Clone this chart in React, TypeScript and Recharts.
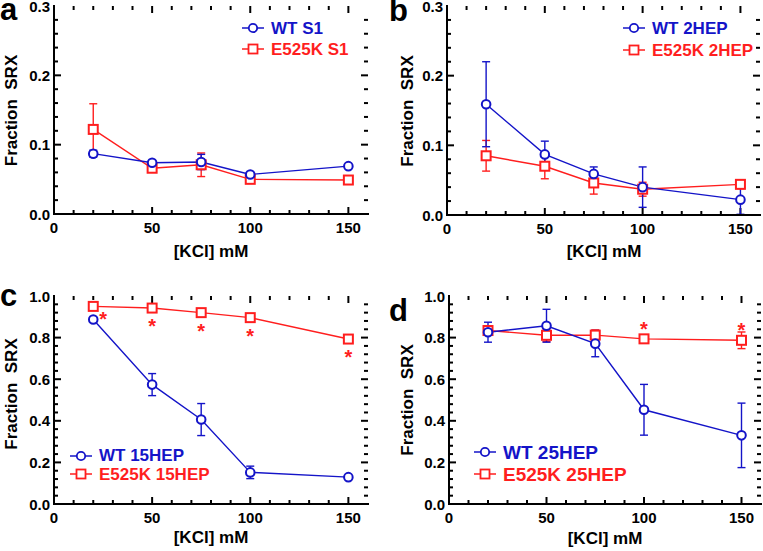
import React from 'react';
import { LineChart, Line, XAxis, YAxis, ErrorBar, Legend, ReferenceLine } from 'recharts';

// ---------- data ----------
const kcl = [20, 50, 75, 100, 150];

const wtS1 = [0.087, 0.074, 0.075, 0.057, 0.069];
const wtS1Err = [0.005, 0.003, 0.011, 0.003, 0.002];
const mutS1 = [0.122, 0.066, 0.071, 0.05, 0.049];
const mutS1Err = [0.037, 0.003, 0.017, 0.003, 0.002];

const wt2 = [0.159, 0.087, 0.059, 0.04, 0.022];
const wt2Err = [0.061, 0.019, 0.01, 0.029, 0.021];
const mut2 = [0.085, 0.07, 0.046, 0.037, 0.044];
const mut2Err = [0.022, 0.018, 0.016, 0.01, 0.006];

const wt15 = [0.887, 0.574, 0.406, 0.152, 0.129];
const wt15Err = [0.01, 0.053, 0.077, 0.03, 0.008];
const mut15 = [0.95, 0.942, 0.92, 0.896, 0.793];
const mut15Err = [0.008, 0.008, 0.008, 0.008, 0.018];

const wt25 = [0.826, 0.857, 0.771, 0.453, 0.33];
const wt25Err = [0.048, 0.079, 0.063, 0.122, 0.155];
const mut25 = [0.834, 0.811, 0.812, 0.794, 0.787];
const mut25Err = [0.022, 0.03, 0.025, 0.01, 0.04];

// significance marks on the E525K series
const starsC = ['right', 'below', 'below', 'below', 'below'];
const starsD = ['', '', '', 'above', 'above'];

// ---------- ticks ----------
const xTicksAll = [0, 10, 20, 30, 40, 50, 60, 70, 80, 90, 100, 110, 120, 130, 140, 150, 160];
const xTicksMajor = [0, 50, 100, 150];
const ySmallAll = [0, 0.02, 0.04, 0.06, 0.08, 0.1, 0.12, 0.14, 0.16, 0.18, 0.2, 0.22, 0.24, 0.26, 0.28, 0.3];
const ySmallMajor = [0, 0.1, 0.2, 0.3];
const yLargeAll = [0, 0.04, 0.08, 0.12, 0.16, 0.2, 0.24, 0.28, 0.32, 0.36, 0.4, 0.44, 0.48, 0.52, 0.56, 0.6, 0.64, 0.68, 0.72, 0.76, 0.8, 0.84, 0.88, 0.92, 0.96, 1.0];
const yLargeMajor = [0, 0.2, 0.4, 0.6, 0.8, 1.0];

const X_MAX = 160;
const BLUE = '#1414C8';
const RED = '#FF1E1E';
const FONT = '"Liberation Sans", Arial, Helvetica, sans-serif';

const build = (a: number[], ae: number[], b: number[], be: number[]) =>
  kcl.map((k, i) => ({ k, wt: a[i], wtErr: ae[i], mut: b[i], mutErr: be[i] }));

const isIn = (arr: number[], v: number) => arr.some((m) => Math.abs(m - v) < 1e-9);

const bottomLabel = (majors: number[]) => (props: any) => {
  const { x, y, payload, index } = props;
  if (!isIn(majors, payload.value)) return <g key={index} />;
  return (
    <text key={index} x={x} y={y + 19} textAnchor="middle" fontFamily={FONT} fontWeight={700} fontSize={15} fill="#000">
      {String(payload.value)}
    </text>
  );
};

const leftLabel = (majors: number[]) => (props: any) => {
  const { x, y, payload, index } = props;
  if (!isIn(majors, payload.value)) return <g key={index} />;
  return (
    <text key={index} x={x - 4} y={y + 5.5} textAnchor="end" fontFamily={FONT} fontWeight={700} fontSize={15} fill="#000">
      {Number(payload.value).toFixed(1)}
    </text>
  );
};

const circleDot = (color: string) => (props: any) => {
  const { cx, cy, index } = props;
  if (cx == null || cy == null) return <g key={index} />;
  return <circle key={index} cx={cx} cy={cy} r={4.3} fill="#fff" stroke={color} strokeWidth={2} />;
};

const squareDot = (color: string) => (props: any) => {
  const { cx, cy, index } = props;
  if (cx == null || cy == null) return <g key={index} />;
  return <rect key={index} x={cx - 4.5} y={cy - 4.5} width={9} height={9} fill="#fff" stroke={color} strokeWidth={2} />;
};

const starLabel = (marks: string[]) => (props: any) => {
  const { x, y, index } = props;
  const m = marks[index];
  if (!m || x == null || y == null) return <g key={index} />;
  let tx = x;
  let ty = y;
  if (m === 'below') ty = y + 25;
  if (m === 'above') ty = y - 3;
  if (m === 'right') {
    tx = x + 10;
    ty = y + 20;
  }
  return (
    <text key={index} x={tx} y={ty} textAnchor="middle" fontFamily={FONT} fontWeight={700} fontSize={20} fill={RED}>
      *
    </text>
  );
};

function LegendBox({ items, fontSize, rowH }: { items: { name: string; color: string; shape: string }[]; fontSize: number; rowH: number }) {
  return (
    <div style={{ display: 'flex', flexDirection: 'column' }}>
      {items.map((it) => (
        <div key={it.name} style={{ display: 'flex', alignItems: 'center', height: rowH, whiteSpace: 'nowrap' }}>
          <svg width={24} height={14} style={{ display: 'block' }}>
            <line x1={1} y1={7} x2={23} y2={7} stroke={it.color} strokeWidth={1.5} />
            {it.shape === 'circle' ? (
              <circle cx={12} cy={7} r={4.2} fill="#fff" stroke={it.color} strokeWidth={1.8} />
            ) : (
              <rect x={7.5} y={2.5} width={9} height={9} fill="#fff" stroke={it.color} strokeWidth={1.8} />
            )}
          </svg>
          <span style={{ marginLeft: 6, color: it.color, fontFamily: FONT, fontWeight: 700, fontSize, lineHeight: 1 }}>{it.name}</span>
        </div>
      ))}
    </div>
  );
}

interface PanelProps {
  left: number;
  top: number;
  w: number;
  h: number;
  plot: { l: number; t: number; r: number; b: number };
  data: any[];
  yMax: number;
  yAll: number[];
  yMajor: number[];
  wtName: string;
  mutName: string;
  legend: { x: number; y: number; font: number; rowH: number };
  stars?: string[];
}

function Panel(p: PanelProps) {
  const YW = 50;
  const XH = 40;
  const margin = {
    left: p.plot.l - YW,
    top: p.plot.t,
    right: p.w - p.plot.r,
    bottom: p.h - p.plot.b - XH,
  };
  const axisLine = { stroke: '#000', strokeWidth: 2, strokeLinecap: 'square' as const };
  const yPerPx = p.yMax / (p.plot.b - p.plot.t);
  const xPerPx = X_MAX / (p.plot.r - p.plot.l);
  const tickStroke = { stroke: '#000', strokeWidth: 2, ifOverflow: 'visible' as const };

  const tickMarks: any[] = [];
  xTicksAll.forEach((v) => {
    if (v <= 0 || v >= X_MAX) return;
    const len = isIn(xTicksMajor, v) ? 7 : 4;
    tickMarks.push(
      <ReferenceLine key={`xb${v}`} segment={[{ x: v, y: 0 }, { x: v, y: len * yPerPx }]} {...tickStroke} />,
      <ReferenceLine key={`xt${v}`} segment={[{ x: v, y: p.yMax }, { x: v, y: p.yMax - len * yPerPx }]} {...tickStroke} />
    );
  });
  p.yAll.forEach((v) => {
    if (v <= 0 || v >= p.yMax - 1e-9) return;
    const len = isIn(p.yMajor, v) ? 7 : 4;
    tickMarks.push(
      <ReferenceLine key={`yl${v}`} segment={[{ x: 0, y: v }, { x: len * xPerPx, y: v }]} {...tickStroke} />,
      <ReferenceLine key={`yr${v}`} segment={[{ x: X_MAX, y: v }, { x: X_MAX - len * xPerPx, y: v }]} {...tickStroke} />
    );
  });

  return (
    <div style={{ position: 'absolute', left: p.left, top: p.top, width: p.w, height: p.h }}>
      <LineChart width={p.w} height={p.h} data={p.data} margin={margin}>
        <XAxis
          dataKey="k"
          type="number"
          domain={[0, X_MAX]}
          ticks={xTicksMajor}
          interval={0}
          height={XH}
          tickSize={0}
          tickMargin={0}
          tickLine={false}
          axisLine={axisLine}
          tick={bottomLabel(xTicksMajor)}
        />
        <XAxis
          xAxisId="top"
          orientation="top"
          type="number"
          domain={[0, X_MAX]}
          ticks={xTicksMajor}
          height={0}
          tickLine={false}
          axisLine={axisLine}
          tick={false}
        />
        <YAxis
          type="number"
          domain={[0, p.yMax]}
          ticks={p.yMajor}
          interval={0}
          width={YW}
          tickSize={0}
          tickMargin={0}
          tickLine={false}
          axisLine={axisLine}
          tick={leftLabel(p.yMajor)}
        />
        <YAxis
          yAxisId="right"
          orientation="right"
          type="number"
          domain={[0, p.yMax]}
          ticks={p.yMajor}
          width={0}
          tickLine={false}
          axisLine={axisLine}
          tick={false}
        />
        {tickMarks}
        <Legend
          layout="vertical"
          align="center"
          verticalAlign="middle"
          wrapperStyle={{ left: p.legend.x, top: p.legend.y, width: 'auto' }}
          content={() => (
            <LegendBox
              fontSize={p.legend.font}
              rowH={p.legend.rowH}
              items={[
                { name: p.wtName, color: BLUE, shape: 'circle' },
                { name: p.mutName, color: RED, shape: 'square' },
              ]}
            />
          )}
        />
        <Line
          dataKey="mut"
          name={p.mutName}
          stroke={RED}
          strokeWidth={1.4}
          isAnimationActive={false}
          dot={squareDot(RED)}
          activeDot={false}
          label={p.stars ? starLabel(p.stars) : false}
        >
          <ErrorBar dataKey="mutErr" width={4} stroke={RED} strokeWidth={1.4} direction="y" />
        </Line>
        <Line
          dataKey="wt"
          name={p.wtName}
          stroke={BLUE}
          strokeWidth={1.4}
          isAnimationActive={false}
          dot={circleDot(BLUE)}
          activeDot={false}
        >
          <ErrorBar dataKey="wtErr" width={4} stroke={BLUE} strokeWidth={1.4} direction="y" />
        </Line>
      </LineChart>
    </div>
  );
}

export default function App() {
  const lettersStyle = { fontFamily: FONT, fontWeight: 700, fontSize: 31, fill: '#000' };
  const titleStyle = { fontFamily: FONT, fontWeight: 700, fontSize: 17, fill: '#000' };
  return (
    <div style={{ position: 'absolute', left: 0, top: 0, width: 763, height: 551, background: '#fff', overflow: 'hidden' }}>
      <Panel
        left={0}
        top={0}
        w={380}
        h={275}
        plot={{ l: 54, t: 6, r: 368, b: 214 }}
        data={build(wtS1, wtS1Err, mutS1, mutS1Err)}
        yMax={0.3}
        yAll={ySmallAll}
        yMajor={ySmallMajor}
        wtName="WT S1"
        mutName="E525K S1"
        legend={{ x: 241, y: 17.5, font: 17, rowH: 21 }}
      />
      <Panel
        left={380}
        top={0}
        w={383}
        h={275}
        plot={{ l: 67, t: 6, r: 380, b: 215 }}
        data={build(wt2, wt2Err, mut2, mut2Err)}
        yMax={0.3}
        yAll={ySmallAll}
        yMajor={ySmallMajor}
        wtName="WT 2HEP"
        mutName="E525K 2HEP"
        legend={{ x: 242, y: 17, font: 17, rowH: 22 }}
      />
      <Panel
        left={0}
        top={275}
        w={380}
        h={276}
        plot={{ l: 54, t: 21, r: 368, b: 229 }}
        data={build(wt15, wt15Err, mut15, mut15Err)}
        yMax={1.0}
        yAll={yLargeAll}
        yMajor={yLargeMajor}
        wtName="WT 15HEP"
        mutName="E525K 15HEP"
        legend={{ x: 69, y: 171.5, font: 17, rowH: 18.5 }}
        stars={starsC}
      />
      <Panel
        left={380}
        top={275}
        w={383}
        h={276}
        plot={{ l: 69, t: 21, r: 381, b: 229 }}
        data={build(wt25, wt25Err, mut25, mut25Err)}
        yMax={1.0}
        yAll={yLargeAll}
        yMajor={yLargeMajor}
        wtName="WT 25HEP"
        mutName="E525K 25HEP"
        legend={{ x: 93, y: 166, font: 19, rowH: 22 }}
        stars={starsD}
      />
      <svg width={763} height={551} style={{ position: 'absolute', left: 0, top: 0, pointerEvents: 'none' }}>
        <text x={0} y={20} {...lettersStyle}>a</text>
        <text x={389} y={21} {...lettersStyle}>b</text>
        <text x={0} y={306} {...lettersStyle}>c</text>
        <text x={389} y={321} {...lettersStyle}>d</text>

        <text x={211} y={257} textAnchor="middle" {...titleStyle}>[KCl] mM</text>
        <text x={604} y={257} textAnchor="middle" {...titleStyle}>[KCl] mM</text>
        <text x={211} y={543} textAnchor="middle" {...titleStyle}>[KCl] mM</text>
        <text x={605} y={544} textAnchor="middle" {...titleStyle}>[KCl] mM</text>

        <text transform="translate(17,110.5) rotate(-90)" textAnchor="middle" xmlSpace="preserve" style={{ whiteSpace: 'pre' }} {...titleStyle}>Fraction  SRX</text>
        <text transform="translate(413,111) rotate(-90)" textAnchor="middle" xmlSpace="preserve" style={{ whiteSpace: 'pre' }} {...titleStyle}>Fraction  SRX</text>
        <text transform="translate(17,394) rotate(-90)" textAnchor="middle" xmlSpace="preserve" style={{ whiteSpace: 'pre' }} {...titleStyle}>Fraction  SRX</text>
        <text transform="translate(413,400) rotate(-90)" textAnchor="middle" xmlSpace="preserve" style={{ whiteSpace: 'pre' }} {...titleStyle}>Fraction  SRX</text>
      </svg>
    </div>
  );
}
